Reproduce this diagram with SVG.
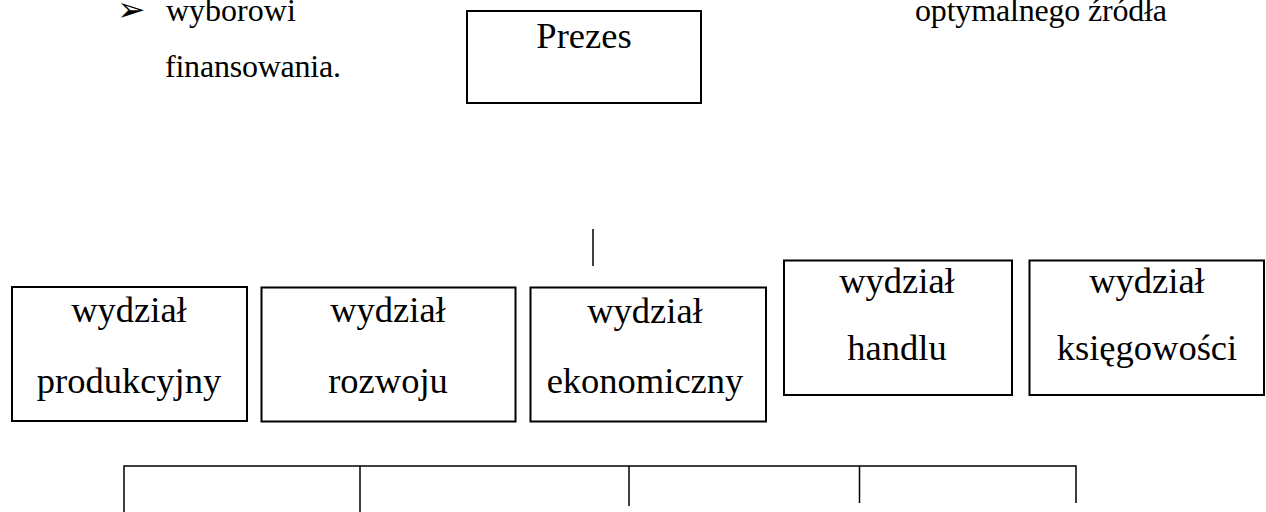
<svg xmlns="http://www.w3.org/2000/svg" width="1266" height="512" viewBox="0 0 1266 512">
<style>
.box{fill:#fff;stroke:#000;stroke-width:2}
.t{font-size:36.5px;fill:#000;text-anchor:middle}
.p{font-size:32px;fill:#000}
.c{stroke:#000;stroke-width:1.5;fill:none}
</style>
<rect width="1266" height="512" fill="#fff"/>
<g font-family="'Liberation Serif', 'Times New Roman', serif">
<g id="text-fragment">
<text x="117" y="21" font-family="'DejaVu Sans', sans-serif" font-size="34" fill="#000">➢</text>
<text class="p" x="166" y="21">wyborowi</text>
<text class="p" x="165" y="77" textLength="176" lengthAdjust="spacing">finansowania.</text>
<text class="p" x="915" y="21" textLength="252" lengthAdjust="spacing">optymalnego źródła</text>
</g>
<g id="prezes">
<rect class="box" x="467" y="11" width="234" height="92"/>
<text class="t" x="584" y="48">Prezes</text>
</g>
<g id="produkcyjny">
<rect class="box" x="12" y="287" width="235" height="134"/>
<text class="t" x="129" y="322">wydział</text>
<text class="t" x="129" y="393">produkcyjny</text>
</g>
<g id="rozwoju">
<rect class="box" x="261.5" y="287.5" width="254" height="134"/>
<text class="t" x="388" y="322">wydział</text>
<text class="t" x="388" y="393">rozwoju</text>
</g>
<g id="ekonomiczny">
<rect class="box" x="530.5" y="287.5" width="235.5" height="134"/>
<text class="t" x="645" y="323">wydział</text>
<text class="t" x="645" y="393">ekonomiczny</text>
</g>
<g id="handlu">
<rect class="box" x="784" y="260.5" width="228" height="134.5"/>
<text class="t" x="897" y="293">wydział</text>
<text class="t" x="897" y="360">handlu</text>
</g>
<g id="ksiegowosci">
<rect class="box" x="1029.5" y="260.5" width="234.5" height="134.5"/>
<text class="t" x="1147" y="293">wydział</text>
<text class="t" x="1147" y="360">księgowości</text>
</g>
</g>
<g id="connectors">
<line class="c" x1="593" y1="229" x2="593" y2="266"/>
<polyline class="c" points="124,512 124,466 1076,466 1076,503"/>
<line class="c" x1="360" y1="466" x2="360" y2="512"/>
<line class="c" x1="629" y1="466" x2="629" y2="506"/>
<line class="c" x1="859.5" y1="466" x2="859.5" y2="503"/>
</g>
</svg>
